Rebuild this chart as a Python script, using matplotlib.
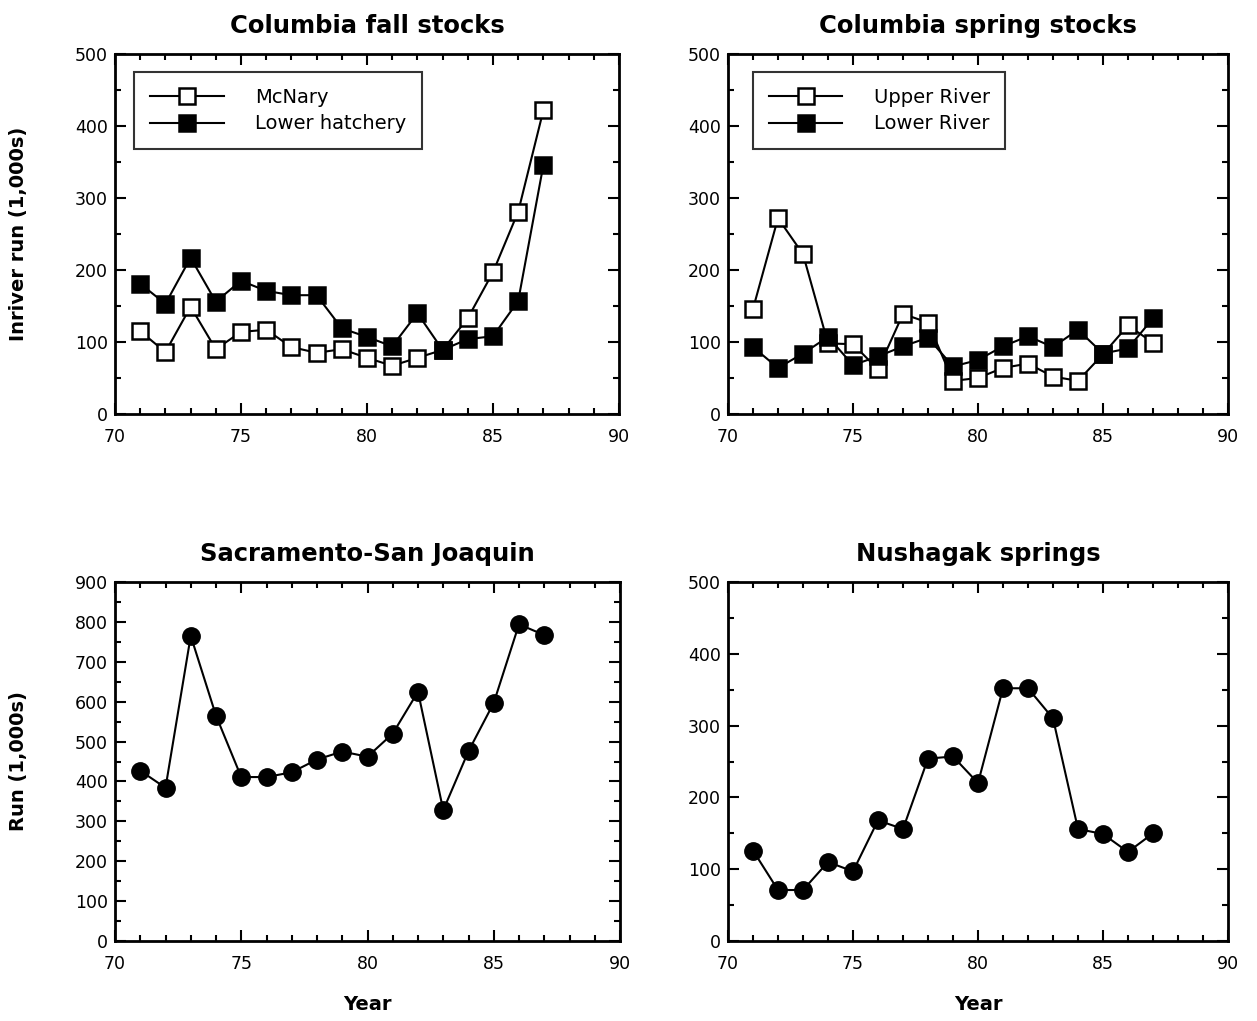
import matplotlib
matplotlib.use("Agg")
import matplotlib.pyplot as plt
from matplotlib.ticker import MultipleLocator

years = list(range(71, 88))

mcnary = [115, 86, 149, 90, 114, 117, 93, 85, 90, 78, 67, 78, 89, 133, 197, 281, 422]
lower_hatchery = [181, 153, 217, 156, 185, 171, 165, 165, 119, 107, 94, 140, 89, 104, 108, 157, 346]

upper_river = [146, 272, 222, 98, 97, 62, 139, 127, 46, 50, 64, 70, 52, 46, 83, 123, 99]
lower_river = [93, 64, 84, 107, 68, 80, 94, 106, 66, 75, 94, 108, 93, 117, 84, 91, 133]

sacramento = [427, 384, 765, 565, 411, 411, 423, 455, 475, 462, 520, 625, 328, 476, 597, 794, 767]
nushagak = [126, 71, 71, 110, 97, 168, 156, 254, 257, 220, 352, 352, 310, 156, 149, 124, 150]

titles = ["Columbia fall stocks", "Columbia spring stocks", "Sacramento-San Joaquin", "Nushagak springs"]

plt.rcParams['font.family'] = ['DejaVu Sans']

fig = plt.figure(figsize=(12.57, 10.21), dpi=100)

W = 1257.0
H = 1021.0
def ax_at(l, t, r, b):
    return fig.add_axes([l / W, 1 - b / H, (r - l) / W, (b - t) / H])

ax1 = ax_at(115, 54, 619, 414)
ax2 = ax_at(728, 54, 1228, 414)
ax3 = ax_at(115, 582, 620, 941)
ax4 = ax_at(728, 582, 1228, 941)

def style(ax, ymax, title):
    ax.set_xlim(70, 90)
    ax.set_ylim(0, ymax)
    ax.xaxis.set_major_locator(MultipleLocator(5))
    ax.xaxis.set_minor_locator(MultipleLocator(1))
    ax.yaxis.set_major_locator(MultipleLocator(100))
    ax.yaxis.set_minor_locator(MultipleLocator(50))
    ax.tick_params(which='both', direction='in', top=True, right=True, width=1.5)
    ax.tick_params(which='major', length=8, labelsize=12.5)
    ax.tick_params(axis='x', which='major', pad=10)
    ax.tick_params(axis='y', which='major', pad=5)
    ax.tick_params(which='minor', length=4)
    for s in ax.spines.values():
        s.set_linewidth(2)
    ax.set_title(title, fontsize=17.5, fontweight='bold', pad=15)

sq = dict(marker='s', markersize=11, color='black', linewidth=1.5, markeredgewidth=1.8)
ci = dict(marker='o', markersize=12.5, color='black', linewidth=1.5)

legkw = dict(loc='upper left', fontsize=14, frameon=True, fancybox=False, edgecolor='black',
             handlelength=3.8, handletextpad=1.6, borderpad=0.8, labelspacing=0.4,
             borderaxespad=0)

ax1.plot(years, mcnary, markerfacecolor='white', label='McNary', **sq)
ax1.plot(years, lower_hatchery, markerfacecolor='black', label='Lower hatchery', **sq)
style(ax1, 500, titles[0])
leg = ax1.legend(bbox_to_anchor=(0.038, 0.95), **legkw)
leg.get_frame().set_linewidth(1.5)

ax2.plot(years, upper_river, markerfacecolor='white', label='Upper River', **sq)
ax2.plot(years, lower_river, markerfacecolor='black', label='Lower River', **sq)
style(ax2, 500, titles[1])
leg = ax2.legend(bbox_to_anchor=(0.05, 0.95), **legkw)
leg.get_frame().set_linewidth(1.5)

ax3.plot(years, sacramento, **ci)
style(ax3, 900, titles[2])
ax4.plot(years, nushagak, **ci)
style(ax4, 500, titles[3])

ax1.set_ylabel("Inriver run (1,000s)", fontsize=14, fontweight='bold', labelpad=34)
ax3.set_ylabel("Run (1,000s)", fontsize=14, fontweight='bold', labelpad=34)
ax3.set_xlabel("Year", fontsize=14, fontweight='bold', labelpad=16)
ax4.set_xlabel("Year", fontsize=14, fontweight='bold', labelpad=16)

fig.savefig("out.png", dpi=100)
